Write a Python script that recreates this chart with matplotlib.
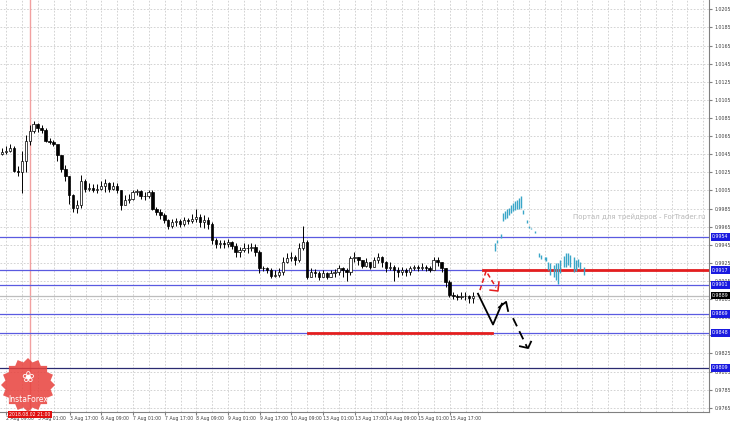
import numpy as np
import matplotlib
matplotlib.use("Agg")
import matplotlib.pyplot as plt
from matplotlib.patches import Polygon
import matplotlib.transforms as mtransforms

plt.rcParams['font.family'] = ['DejaVu Sans']

# H1 candles, one every two hours (x = hours from chart start)
bar_hours = np.arange(1, 241, 2)
first_open = 1.0045
closes = [1.0047, 1.0049, 1.0052, 1.0027, 1.0025, 1.0038, 1.0060, 1.0071, 1.0078, 1.0074,
          1.0072, 1.0060, 1.0059, 1.0056, 1.0044, 1.0029, 1.0021, 1.0000, 0.9986, 0.9989,
          1.0016, 1.0007, 1.0008, 1.0006, 1.0007, 1.0010, 1.0013, 1.0007, 1.0010, 1.0005,
          0.9989, 0.9994, 0.9996, 1.0003, 1.0004, 0.9999, 0.9999, 1.0003, 0.9985, 0.9981,
          0.9978, 0.9972, 0.9966, 0.9970, 0.9971, 0.9968, 0.9972, 0.9971, 0.9973, 0.9976,
          0.9970, 0.9972, 0.9968, 0.9950, 0.9946, 0.9947, 0.9946, 0.9948, 0.9944, 0.9937,
          0.9939, 0.9942, 0.9941, 0.9943, 0.9937, 0.9919, 0.9919, 0.9917, 0.9911, 0.9912,
          0.9915, 0.9926, 0.9930, 0.9932, 0.9928, 0.9942, 0.9948, 0.9910, 0.9915, 0.9914,
          0.9910, 0.9914, 0.9910, 0.9914, 0.9915, 0.9919, 0.9917, 0.9915, 0.9930, 0.9932,
          0.9928, 0.9922, 0.9926, 0.9921, 0.9928, 0.9931, 0.9926, 0.9919, 0.9921, 0.9917,
          0.9915, 0.9917, 0.9915, 0.9919, 0.9920, 0.9919, 0.9921, 0.9919, 0.9917, 0.9928,
          0.9926, 0.9919, 0.9904, 0.9890, 0.9888, 0.9887, 0.9889, 0.9888, 0.9886, 0.9889]
highs = [1.0052, 1.0054, 1.0056, 1.0054, 1.0032, 1.0049, 1.0066, 1.0077, 1.0082, 1.0079,
         1.0077, 1.0074, 1.0063, 1.0061, 1.0055, 1.0044, 1.0033, 1.0021, 1.0001, 0.9994,
         1.0022, 1.0018, 1.0013, 1.0012, 1.0012, 1.0016, 1.0018, 1.0014, 1.0014, 1.0013,
         1.0005, 1.0000, 1.0001, 1.0006, 1.0007, 1.0006, 1.0003, 1.0006, 1.0005, 0.9987,
         0.9984, 0.9980, 0.9974, 0.9974, 0.9975, 0.9974, 0.9976, 0.9975, 0.9979, 0.9985,
         0.9979, 0.9978, 0.9976, 0.9970, 0.9952, 0.9950, 0.9950, 0.9951, 0.9949, 0.9947,
         0.9943, 0.9947, 0.9946, 0.9947, 0.9946, 0.9939, 0.9922, 0.9921, 0.9919, 0.9917,
         0.9919, 0.9931, 0.9936, 0.9937, 0.9934, 0.9947, 0.9966, 0.9950, 0.9919, 0.9918,
         0.9916, 0.9917, 0.9915, 0.9917, 0.9918, 0.9923, 0.9921, 0.9919, 0.9933, 0.9937,
         0.9932, 0.9928, 0.9930, 0.9926, 0.9932, 0.9936, 0.9933, 0.9927, 0.9926, 0.9923,
         0.9921, 0.9921, 0.9919, 0.9922, 0.9923, 0.9923, 0.9925, 0.9923, 0.9922, 0.9932,
         0.9931, 0.9926, 0.9919, 0.9906, 0.9893, 0.9891, 0.9893, 0.9893, 0.9890, 0.9893]
lows = [1.0044, 1.0045, 1.0047, 1.0025, 1.0021, 1.0002, 1.0025, 1.0055, 1.0069, 1.0070,
        1.0069, 1.0058, 1.0056, 1.0054, 1.0038, 1.0025, 1.0016, 0.9990, 0.9981, 0.9980,
        0.9986, 1.0003, 1.0004, 1.0003, 1.0002, 1.0005, 1.0003, 1.0003, 1.0005, 1.0002,
        0.9983, 0.9990, 0.9991, 0.9995, 1.0000, 0.9996, 0.9995, 0.9997, 0.9983, 0.9978,
        0.9973, 0.9969, 0.9963, 0.9964, 0.9966, 0.9965, 0.9966, 0.9968, 0.9969, 0.9970,
        0.9965, 0.9964, 0.9963, 0.9946, 0.9941, 0.9942, 0.9941, 0.9943, 0.9940, 0.9932,
        0.9931, 0.9937, 0.9936, 0.9938, 0.9933, 0.9914, 0.9916, 0.9914, 0.9908, 0.9909,
        0.9910, 0.9912, 0.9925, 0.9927, 0.9923, 0.9926, 0.9939, 0.9907, 0.9909, 0.9910,
        0.9906, 0.9909, 0.9907, 0.9910, 0.9909, 0.9912, 0.9910, 0.9905, 0.9912, 0.9926,
        0.9923, 0.9919, 0.9921, 0.9918, 0.9920, 0.9925, 0.9921, 0.9915, 0.9917, 0.9905,
        0.9910, 0.9912, 0.9911, 0.9912, 0.9917, 0.9916, 0.9917, 0.9916, 0.9915, 0.9919,
        0.9922, 0.9915, 0.9898, 0.9887, 0.9885, 0.9884, 0.9885, 0.9884, 0.9881, 0.9881]
opens = [first_open] + closes[:-1]

# forecast bars (cyan)
fc_hours = [250, 251, 253, 254, 255, 256, 257, 258, 259, 260, 261, 262, 263, 264, 266, 267, 268, 270,
            272, 273, 275, 276, 277, 278, 280, 281, 282, 283, 285, 286, 287, 288, 290, 291, 292, 293, 295]
fc_top = [0.9947, 0.9950, 0.9957, 0.9980, 0.9982, 0.9984, 0.9986, 0.9989, 0.9991, 0.9993, 0.9995, 0.9997,
          0.9999, 0.9983, 0.9972, 0.9966, 0.9964, 0.9960,
          0.9936, 0.9934, 0.9932, 0.9931, 0.9926, 0.9925, 0.9923, 0.9925, 0.9925, 0.9928, 0.9933, 0.9936,
          0.9936, 0.9934, 0.9931, 0.9928, 0.9929, 0.9926, 0.9920]
fc_bottom = [0.9938, 0.9947, 0.9953, 0.9971, 0.9973, 0.9975, 0.9978, 0.9980, 0.9982, 0.9983, 0.9985, 0.9985,
             0.9986, 0.9979, 0.9969, 0.9964, 0.9962, 0.9958,
             0.9932, 0.9929, 0.9928, 0.9927, 0.9917, 0.9912, 0.9909, 0.9906, 0.9902, 0.9914, 0.9920, 0.9920,
             0.9923, 0.9920, 0.9915, 0.9916, 0.9920, 0.9918, 0.9912]

# wave drawings
black_h = [241.4, 249.0, 253.5]
black_p = [0.9891, 0.9857, 0.9880]
black_head_h = [252.0, 255.6, 256.6]
black_head_p = [0.9876, 0.9882, 0.9872]
dash_h = [259.1, 266.2]
dash_p = [0.9864, 0.9832]
dash_head_h = [262.6, 266.7, 268.2]
dash_head_p = [0.9833, 0.9831, 0.9838]
red_h = [242.4, 245.5, 250.5]
red_p = [0.9895, 0.9916, 0.9898]
red_head_h = [247.5, 251.5, 252.0]
red_head_p = [0.9895, 0.9894, 0.9904]

blue_levels = [0.9954, 0.9917, 0.9901, 0.9869, 0.9848, 0.9809]
bid = 0.9889
red_level_hi = 0.9917
red_level_lo = 0.9848
price_ticks = [1.0205 - 0.002 * k for k in range(23)]
time_labels = ["2 Aug 09:00", "3 Aug 01:00", "3 Aug 17:00", "6 Aug 09:00", "7 Aug 01:00",
               "7 Aug 17:00", "8 Aug 09:00", "9 Aug 01:00", "9 Aug 17:00", "10 Aug 09:00",
               "13 Aug 01:00", "13 Aug 17:00", "14 Aug 09:00", "15 Aug 01:00", "15 Aug 17:00"]

W, H = 730, 424
AX_R, AX_B = 709, 412   # right / bottom edge of the plot area in pixels
fig = plt.figure(figsize=(W / 100, H / 100), dpi=100)
ax = fig.add_axes([0, (H - AX_B) / H, AX_R / W, AX_B / H])
px = 1.98  # pixels per hour
ax.set_xlim(0, AX_R / px)
ax.set_ylim(0.97604, 1.02153)

# grid
tick_h = [3.2 + 16 * k for k in range(len(time_labels))]
for h in np.arange(3.2, AX_R / px, 8):
    ax.axvline(h, color='#cccccc', lw=0.6, ls=(0, (2, 2)), zorder=0)
for p in price_ticks:
    ax.axhline(p, color='#cccccc', lw=0.6, ls=(0, (2, 2)), zorder=0)

# vertical red line
ax.axvline(15.2, color='#f2a0a0', lw=1.0, zorder=1)

# horizontal levels
for lv in blue_levels:
    c = '#2a2a70' if lv == 0.9809 else '#5a5ae0'
    ax.axhline(lv, color=c, lw=0.9, zorder=2)
ax.axhline(bid, color='#bdbdbd', lw=0.9, zorder=2)
ax.plot([244, AX_R / px], [red_level_hi, red_level_hi], color='#e41e1e', lw=2, zorder=3)
ax.plot([155.6, 248.5], [red_level_lo, red_level_lo], color='#e41e1e', lw=2, zorder=3)

# candles
for x, o, hi, lo, c in zip(bar_hours, opens, highs, lows, closes):
    ax.vlines(x, lo, hi, color='black', lw=0.7, zorder=4)
    bull = c >= o
    ax.bar(x, abs(c - o) if abs(c - o) > 0.00003 else 0.00003, bottom=min(o, c), width=1.2,
           color='white' if bull else 'black', edgecolor='black', lw=0.5, zorder=5)

# forecast histogram
ax.vlines(fc_hours, fc_bottom, fc_top, color='#3aa6c8', lw=1.0, zorder=4)

# wave arrows
ax.plot(black_h, black_p, color='black', lw=1.3, zorder=6)
ax.plot(black_head_h, black_head_p, color='black', lw=1.3, zorder=6)
ax.plot(dash_h, dash_p, color='black', lw=1.3, ls=(0, (5, 3)), zorder=6)
ax.plot(dash_head_h, dash_head_p, color='black', lw=1.3, zorder=6)
ax.plot(red_h, red_p, color='#e41e1e', lw=1.1, ls=(0, (3, 2)), zorder=6)
ax.plot(red_head_h, red_head_p, color='#e41e1e', lw=1.1, zorder=6)

# axes styling
for s in ['top', 'left']:
    ax.spines[s].set_visible(False)
ax.spines['right'].set_color('#808080')
ax.spines['bottom'].set_color('#808080')
ax.yaxis.tick_right()
ax.set_yticks(price_ticks)
ax.set_yticklabels([f"{p:.4f}" for p in price_ticks])
ax.tick_params(axis='y', length=2, pad=2, labelsize=3.4, colors='#808080', labelcolor='#404040')
ax.set_xticks(tick_h)
ax.set_xticklabels(time_labels, ha='left')
ax.tick_params(axis='x', length=2, pad=1, labelsize=3.3, colors='#808080', labelcolor='#404040')

# price boxes
trans = mtransforms.blended_transform_factory(ax.transAxes, ax.transData)
for lv in blue_levels:
    ax.text(1.0045, lv, f"{lv:.4f}", transform=trans, fontsize=3.4, color='white', va='center',
            ha='left', bbox=dict(boxstyle='square,pad=0.3', fc='#1a1ae0', ec='none'), zorder=10,
            clip_on=False)
ax.text(1.0045, bid, f"{bid:.4f}", transform=trans, fontsize=3.4, color='white', va='center',
        ha='left', bbox=dict(boxstyle='square,pad=0.3', fc='black', ec='none'), zorder=10, clip_on=False)

# date box of the vertical line
tx = mtransforms.blended_transform_factory(ax.transData, ax.transAxes)
ax.text(15.2, -2.6 / AX_B, "2018.08.02 21:00", transform=tx, fontsize=3.3, color='white', ha='center',
        va='center', bbox=dict(boxstyle='square,pad=0.25', fc='#e01010', ec='none'), zorder=10, clip_on=False)

# watermark
fig.text(573 / W, 1 - 217 / H, "Портал для трейдеров - ForTrader.ru", fontsize=5.0, color='#b8b8b8',
         ha='left', va='center')

# InstaForex logo
cx, cy, n = 28, 385, 16
ang = np.linspace(0, 2 * np.pi, 2 * n, endpoint=False)
rad = np.where(np.arange(2 * n) % 2 == 0, 27, 23)
pts = np.column_stack([(cx + rad * np.cos(ang)) / W, 1 - (cy + rad * np.sin(ang)) / H])
fig.patches.append(Polygon(pts, closed=True, transform=fig.transFigure, fc='#e8413c', ec='none',
                           alpha=0.85, zorder=20))
fig.text(cx / W, 1 - 377 / H, "\u2740", fontsize=11, color='white', ha='center', va='center', zorder=21)
fig.text(cx / W, 1 - 400 / H, "InstaForex", fontsize=5.5, color='white', ha='center', va='center', zorder=21)

fig.savefig("out.png", dpi=100)
